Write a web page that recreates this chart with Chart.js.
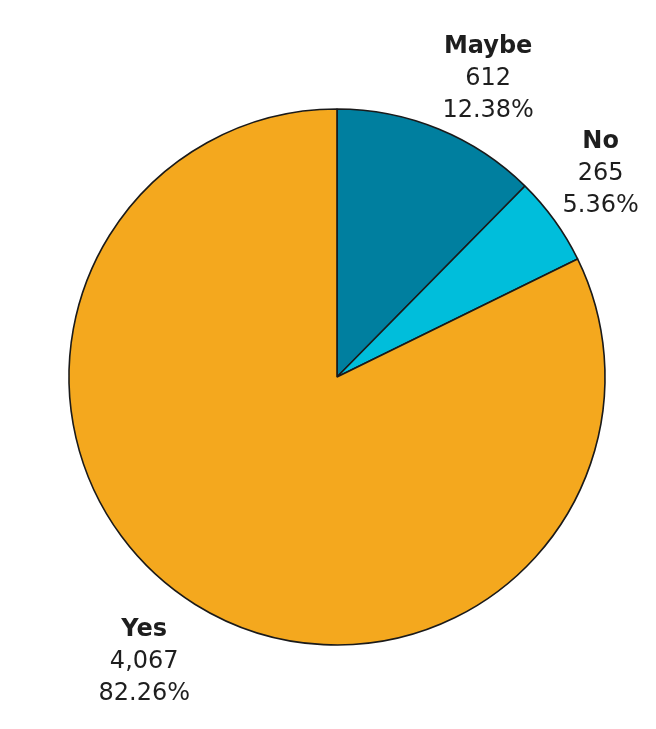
<!DOCTYPE html>
<html>
<head>
<meta charset="utf-8">
<script src="https://cdn.jsdelivr.net/npm/chart.js@4/dist/chart.umd.min.js"></script>
<style>
    html, body { margin: 0; padding: 0; background: #fff; }
    #wrap { width: 656px; height: 729px; position: relative; }
</style>
</head>
<body>
<div id="wrap"><canvas id="pie"></canvas></div>
<script>
// Answers, in clockwise order from 12 o'clock
const labels = ['Maybe', 'No', 'Yes'];
const counts = [612, 265, 4067];
const COLORS = ['#007f9f', '#00bedb', '#f4a81e'];

const FONT = '"DejaVu Sans", Verdana, sans-serif';
const total = counts.reduce((a, b) => a + b, 0);

// ── Outside labels: name / count / percent, anchored just past the rim ──
const sliceLabels = {
    id: 'sliceLabels',
    afterDatasetsDraw(chart) {
        const ctx = chart.ctx;
        const arcs = chart.getDatasetMeta(0).data;
        const lineH = 32;
        ctx.save();
        ctx.fillStyle = '#1e1e1e';
        ctx.textAlign = 'center';
        ctx.textBaseline = 'middle';
        arcs.forEach((arc, i) => {
            const mid = (arc.startAngle + arc.endAngle) / 2;
            const r = arc.outerRadius + 10;
            const ax = arc.x + Math.cos(mid) * r;
            const ay = arc.y + Math.sin(mid) * r;
            const lines = [
                { text: labels[i], bold: true },
                { text: counts[i].toLocaleString('en-US') },
                { text: (counts[i] / total * 100).toFixed(2) + '%' }
            ];
            let w = 0;
            lines.forEach(l => {
                ctx.font = (l.bold ? 'bold ' : '') + '24px ' + FONT;
                w = Math.max(w, ctx.measureText(l.text).width);
            });
            const h = lines.length * lineH;
            const left = Math.cos(mid) >= 0 ? ax : ax - w;
            const top  = Math.sin(mid) >= 0 ? ay + 1 : ay - h + 7;
            lines.forEach((l, k) => {
                ctx.font = (l.bold ? 'bold ' : '') + '24px ' + FONT;
                ctx.fillText(l.text, left + w / 2, top + lineH * (k + 0.5));
            });
        });
        ctx.restore();
    }
};

new Chart(document.getElementById('pie'), {
    type: 'pie',
    data: {
        labels: labels,
        datasets: [{
            data: counts,
            backgroundColor: COLORS,
            borderColor: '#1a1a1a',
            borderWidth: 1.6,
            hoverOffset: 0
        }]
    },
    options: {
        responsive: true,
        maintainAspectRatio: false,
        animation: false,
        radius: 268,
        layout: { padding: { left: 60, right: 42, top: 100, bottom: 75 } },
        plugins: { legend: { display: false }, tooltip: { enabled: false } }
    },
    plugins: [sliceLabels]
});
</script>
</body>
</html>
